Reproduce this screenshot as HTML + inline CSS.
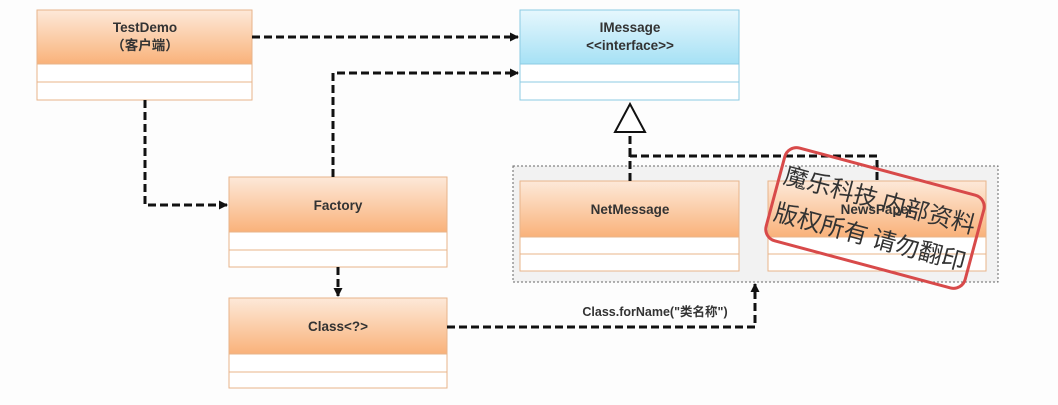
<!DOCTYPE html>
<html><head><meta charset="utf-8"><style>
body{margin:0;width:1058px;height:400px;background:#fdfdfd;overflow:hidden;font-family:"Liberation Sans","Noto Sans CJK SC",sans-serif;}
</style></head><body>
<svg width="1058" height="400" xmlns="http://www.w3.org/2000/svg">
<defs>
<linearGradient id="o" x1="0" y1="0" x2="0" y2="1"><stop offset="0" stop-color="#fde9d9"/><stop offset="1" stop-color="#f9b27a"/></linearGradient>
<linearGradient id="b" x1="0" y1="0" x2="0" y2="1"><stop offset="0" stop-color="#e6f7fd"/><stop offset="1" stop-color="#a6e1f5"/></linearGradient>
<marker id="a" markerWidth="9" markerHeight="9" refX="8" refY="4.5" orient="auto" markerUnits="userSpaceOnUse"><path d="M0,0 L9,4.5 L0,9z" fill="#111"/></marker>
</defs>
<rect x="513" y="166" width="485" height="116" fill="#f2f2f2" stroke="#666" stroke-dasharray="2,2"/>
<g font-weight="bold" font-size="13.5" text-anchor="middle" fill="#333">
<g stroke="#e8b48a">
<rect x="37" y="10" width="215" height="90" fill="#fff"/><rect x="37" y="10" width="215" height="54" fill="url(#o)"/><line x1="37" y1="82" x2="252" y2="82"/>
<rect x="229" y="177" width="218" height="90" fill="#fff"/><rect x="229" y="177" width="218" height="55" fill="url(#o)"/><line x1="229" y1="250" x2="447" y2="250"/>
<rect x="229" y="298" width="218" height="90" fill="#fff"/><rect x="229" y="298" width="218" height="56" fill="url(#o)"/><line x1="229" y1="372" x2="447" y2="372"/>
<rect x="520" y="181" width="219" height="90" fill="#fff"/><rect x="520" y="181" width="219" height="56" fill="url(#o)"/><line x1="520" y1="254" x2="739" y2="254"/>
<rect x="768" y="181" width="218" height="90" fill="#fff"/><rect x="768" y="181" width="218" height="56" fill="url(#o)"/><line x1="768" y1="254" x2="986" y2="254"/>
</g>
<g stroke="#8ccbe3"><rect x="520" y="10" width="219" height="90" fill="#fff"/><rect x="520" y="10" width="219" height="54" fill="url(#b)"/><line x1="520" y1="82" x2="739" y2="82"/></g>
<text x="145" y="32">TestDemo</text><text x="145" y="50">（客户端）</text>
<text x="630" y="32">IMessage</text><text x="630" y="50">&lt;&lt;interface&gt;&gt;</text>
<text x="338" y="210">Factory</text>
<text x="338" y="331">Class&lt;?&gt;</text>
<text x="630" y="214">NetMessage</text>
<text x="877" y="214">NewsPaper</text>
<text x="655" y="316" font-size="12.5">Class.forName("类名称")</text>
</g>
<g fill="none" stroke="#111" stroke-width="3" stroke-dasharray="8,4">
<path d="M252,37 H518" marker-end="url(#a)"/>
<path d="M333,177 V73 H518" marker-end="url(#a)"/>
<path d="M145,100 V205 H227" marker-end="url(#a)"/>
<path d="M338,267 V296" marker-end="url(#a)"/>
<path d="M447,327 H755 V284" marker-end="url(#a)"/>
<path d="M630,181 V156 H877 V181"/>
<path d="M630,156 V132"/>
</g>
<path d="M630,104 L645,132 L615,132z" fill="#fff" stroke="#111" stroke-width="2"/>
<g transform="rotate(15 875 218)">
<rect x="772" y="170" width="206" height="96" rx="12" fill="none" stroke="#d84a4a" stroke-width="3"/>
<text x="875" y="208" font-size="24" text-anchor="middle" fill="#333" font-family="'Noto Sans CJK SC',sans-serif">魔乐科技 内部资料</text>
<text x="875" y="246" font-size="24" text-anchor="middle" fill="#333" font-family="'Noto Sans CJK SC',sans-serif">版权所有 请勿翻印</text>
</g>
</svg>
</body></html>
